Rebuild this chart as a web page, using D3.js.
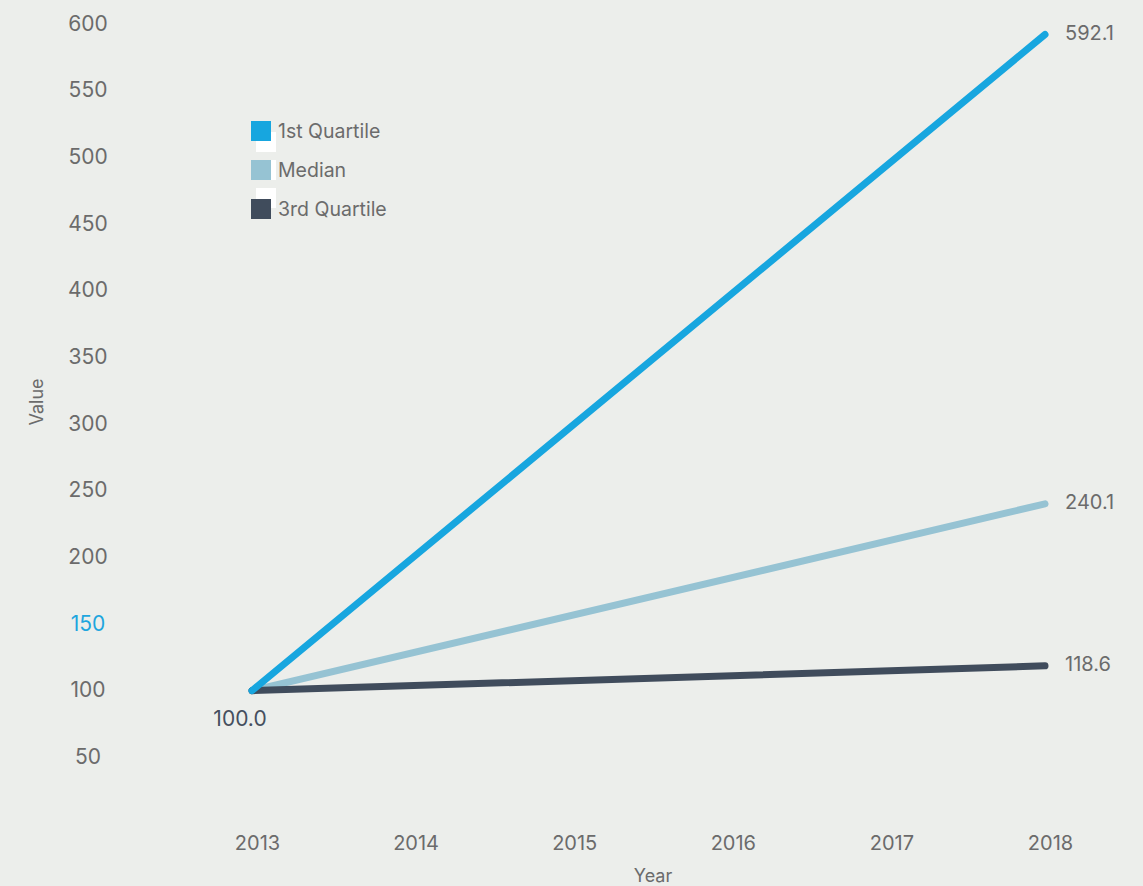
<!DOCTYPE html>
<html>
<head>
<meta charset="utf-8">
<script src="https://cdnjs.cloudflare.com/ajax/libs/d3/7.8.5/d3.min.js"></script>
<style>
  html, body { margin: 0; padding: 0; background: #eceeeb; }
  svg { display: block; font-family: Inter, "Noto Sans", sans-serif; }
</style>
</head>
<body>
<svg id="chart" width="1143" height="886"></svg>
<script>
// Index values (2013 = 100) for each quartile series
const years = [2013, 2014, 2015, 2016, 2017, 2018];
const seriesNames = ["1st Quartile", "Median", "3rd Quartile"];
const seriesColors = ["#17a6df", "#96c3d3", "#404c5c"];
const firstQuartile = [{ year: 2013, value: 100.0 }, { year: 2018, value: 592.1 }];
const median = [{ year: 2013, value: 100.0 }, { year: 2018, value: 240.1 }];
const thirdQuartile = [{ year: 2013, value: 100.0 }, { year: 2018, value: 118.6 }];
const yTicks = [50, 100, 150, 200, 250, 300, 350, 400, 450, 500, 550, 600];
const highlightTick = 150;

const series = [
  { name: seriesNames[0], color: seriesColors[0], data: firstQuartile },
  { name: seriesNames[1], color: seriesColors[1], data: median },
  { name: seriesNames[2], color: seriesColors[2], data: thirdQuartile }
];

const svg = d3.select("#chart");
const fontSize = 20;
const textGrey = "#6b6b6b";

const x = d3.scalePoint().domain(years).range([252, 1045]);
const y = d3.scaleLinear().domain([0, 600]).range([824, 24]);

// Y axis: labels only, centred in the left gutter
const yAxis = svg.append("g").attr("transform", "translate(88,0)")
  .call(d3.axisLeft(y).tickValues(yTicks).tickSize(0).tickPadding(0));
yAxis.select(".domain").remove();
yAxis.selectAll("text")
  .attr("text-anchor", "middle")
  .attr("dy", "0.3em")
  .style("font-size", "21px")
  .style("font-family", "Inter, 'Noto Sans', sans-serif")
  .attr("fill", d => d === highlightTick ? "#1ea6de" : textGrey);

// X axis: year labels only
const xAxis = svg.append("g").attr("transform", "translate(5,843)")
  .call(d3.axisBottom(x).tickSize(0).tickPadding(0).tickFormat(d3.format("d")));
xAxis.select(".domain").remove();
xAxis.selectAll("text")
  .attr("dy", "0.36em")
  .attr("y", 0)
  .style("font-size", fontSize + "px")
  .style("font-family", "Inter, 'Noto Sans', sans-serif")
  .attr("fill", textGrey);

// Axis titles
svg.append("text")
  .attr("x", 653).attr("y", 876).attr("dy", "0.36em")
  .attr("text-anchor", "middle")
  .style("font-size", "18px").attr("fill", textGrey)
  .text("Year");
svg.append("text")
  .attr("transform", "translate(37,402) rotate(-90)")
  .attr("dy", "0.36em")
  .attr("text-anchor", "middle")
  .style("font-size", "18px").attr("fill", textGrey)
  .text("Value");

// Lines (drawn so the 1st quartile sits on top)
const line = d3.line().x(d => x(d.year)).y(d => y(d.value));
const drawOrder = [series[1], series[2], series[0]];
svg.append("g").selectAll("path")
  .data(drawOrder)
  .join("path")
  .attr("d", d => line(d.data))
  .attr("fill", "none")
  .attr("stroke", d => d.color)
  .attr("stroke-width", 7)
  .attr("stroke-linecap", "round");

// End-of-line value labels
svg.append("g").selectAll("text")
  .data(series)
  .join("text")
  .attr("x", d => x(d.data[d.data.length - 1].year) + 20)
  .attr("y", d => y(d.data[d.data.length - 1].value) - 2)
  .attr("dy", "0.36em")
  .style("font-size", fontSize + "px")
  .attr("fill", textGrey)
  .text(d => d3.format(".1f")(d.data[d.data.length - 1].value));

// Shared starting value label
svg.append("text")
  .attr("x", x(firstQuartile[0].year) - 12)
  .attr("y", y(firstQuartile[0].value) + 28)
  .attr("dy", "0.36em")
  .attr("text-anchor", "middle")
  .style("font-size", "21px")
  .attr("fill", "#454f5e")
  .text(d3.format(".1f")(firstQuartile[0].value));

// Legend
const legend = svg.append("g").attr("transform", "translate(251,121)");
const items = legend.selectAll("g")
  .data(series)
  .join("g")
  .attr("transform", (d, i) => `translate(0,${i * 39})`);
// pale backing squares behind the swatches
const backOffsets = [[5, 11], [5, 0], [5, -11]];
items.append("rect")
  .attr("x", (d, i) => backOffsets[i][0])
  .attr("y", (d, i) => backOffsets[i][1])
  .attr("width", 20).attr("height", 20)
  .attr("fill", "#ffffff");
items.append("rect")
  .attr("width", 20).attr("height", 20)
  .attr("fill", d => d.color);
items.append("text")
  .attr("x", 27).attr("y", 10).attr("dy", "0.36em")
  .style("font-size", "19.5px")
  .attr("fill", textGrey)
  .text(d => d.name);
</script>
</body>
</html>
